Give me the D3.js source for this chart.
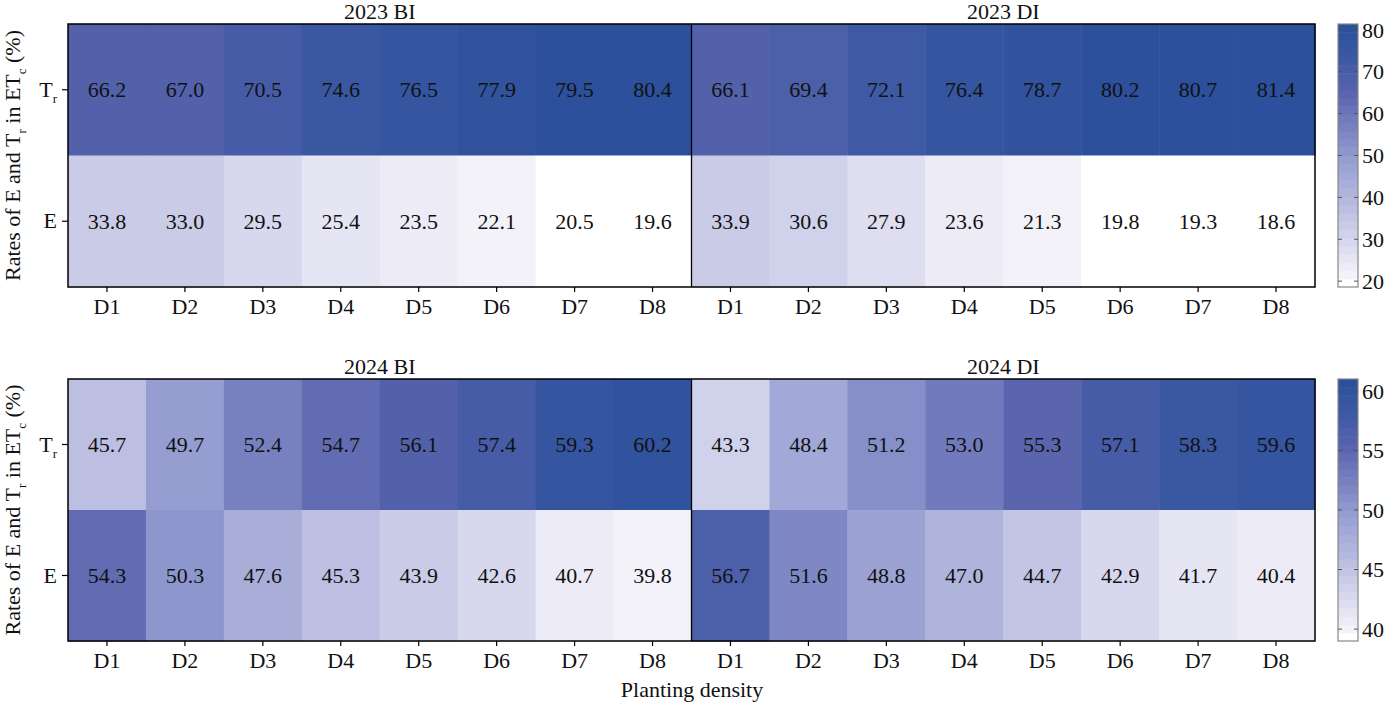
<!DOCTYPE html>
<html>
<head>
<meta charset="utf-8">
<script src="https://cdn.jsdelivr.net/npm/d3@7"></script>
<style>
body { margin: 0; background: #fff; }
text { font-family: "Liberation Serif", "Times New Roman", serif; fill: #111; }
</style>
</head>
<body>
<svg id="chart" width="1394" height="706"></svg>
<script>
// densities and rows
const densities = ['D1', 'D2', 'D3', 'D4', 'D5', 'D6', 'D7', 'D8'];
const treatments = ['BI', 'DI'];
const rowKeys = ['Tr', 'E'];

// 2023 values
const bi2023Tr = [66.2, 67.0, 70.5, 74.6, 76.5, 77.9, 79.5, 80.4];
const bi2023E = [33.8, 33.0, 29.5, 25.4, 23.5, 22.1, 20.5, 19.6];
const di2023Tr = [66.1, 69.4, 72.1, 76.4, 78.7, 80.2, 80.7, 81.4];
const di2023E = [33.9, 30.6, 27.9, 23.6, 21.3, 19.8, 19.3, 18.6];

// 2024 values
const bi2024Tr = [45.7, 49.7, 52.4, 54.7, 56.1, 57.4, 59.3, 60.2];
const bi2024E = [54.3, 50.3, 47.6, 45.3, 43.9, 42.6, 40.7, 39.8];
const di2024Tr = [43.3, 48.4, 51.2, 53.0, 55.3, 57.1, 58.3, 59.6];
const di2024E = [56.7, 51.6, 48.8, 47.0, 44.7, 42.9, 41.7, 40.4];

// colorbar ticks / ranges
const ticks2023 = [20, 30, 40, 50, 60, 70, 80];
const ticks2024 = [40, 45, 50, 55, 60];
const range2023 = [18.6, 81.4];
const range2024 = [39, 61];

const svg = d3.select('#chart');
const left = 68, right = 1315;
const nLevels = 32;
const fs = '22px';

// white -> lavender -> blue
const cmap = d3.scaleLinear()
    .domain([0, 0.03, 0.25, 0.5, 0.75, 0.88, 1])
    .range(['#ffffff', '#f4f2f9', '#c4c6e5', '#929ad0', '#5863ad', '#3d59a4', '#2c509b'])
    .interpolate(d3.interpolateRgb);

function levelColor(v, dom) {
  let t = (v - dom[0]) / (dom[1] - dom[0]);
  let k = Math.max(0, Math.min(nLevels - 1, Math.floor(t * nLevels)));
  return cmap(k / (nLevels - 1));
}

function panel(top, bottom, year, vals, dom, ticks) {
  const cols = [];
  treatments.forEach(tr => densities.forEach(d => cols.push(tr + '-' + d)));

  const x = d3.scaleBand().domain(cols).range([left, right]);
  const y = d3.scaleBand().domain(rowKeys).range([top, bottom]);

  const cells = [];
  treatments.forEach(tr => {
    rowKeys.forEach(r => {
      vals[tr][r].forEach((v, i) => cells.push({col: tr + '-' + densities[i], row: r, v: v}));
    });
  });

  const g = svg.append('g');

  g.selectAll('rect.cell')
    .data(cells)
    .enter()
    .append('rect')
    .attr('class', 'cell')
    .attr('x', d => x(d.col))
    .attr('y', d => y(d.row))
    .attr('width', x.bandwidth() + 0.5)
    .attr('height', y.bandwidth() + 0.5)
    .attr('fill', d => levelColor(d.v, dom));

  g.selectAll('text.val')
    .data(cells)
    .enter()
    .append('text')
    .attr('class', 'val')
    .attr('x', d => x(d.col) + x.bandwidth() / 2)
    .attr('y', d => y(d.row) + y.bandwidth() / 2)
    .attr('dy', '0.35em')
    .attr('text-anchor', 'middle')
    .attr('font-size', fs)
    .text(d => d.v.toFixed(1));

  // divider between BI and DI
  const mid = x('DI-D1');
  g.append('line')
    .attr('x1', mid).attr('x2', mid)
    .attr('y1', top).attr('y2', bottom)
    .attr('stroke', '#000').attr('stroke-width', 1.3);

  g.append('rect')
    .attr('x', left).attr('y', top)
    .attr('width', right - left).attr('height', bottom - top)
    .attr('fill', 'none').attr('stroke', '#000').attr('stroke-width', 1.5);

  // titles
  treatments.forEach(tr => {
    const x0 = x(tr + '-D1'), x1 = x(tr + '-D8') + x.bandwidth();
    g.append('text')
      .attr('x', (x0 + x1) / 2)
      .attr('y', top - 5)
      .attr('text-anchor', 'middle')
      .attr('font-size', fs)
      .text(year + ' ' + tr);
  });

  // x axis
  const xAxis = g.append('g')
    .attr('transform', `translate(0, ${bottom})`)
    .call(d3.axisBottom(x).tickSize(5).tickPadding(6).tickFormat(d => d.split('-')[1]));
  xAxis.select('.domain').remove();
  xAxis.selectAll('line').attr('stroke', '#000').attr('stroke-width', 1.2);
  xAxis.selectAll('text').attr('font-size', fs).attr('font-family', '"Liberation Serif", serif').attr('fill', '#111');

  // y axis
  const yAxis = g.append('g')
    .attr('transform', `translate(${left}, 0)`)
    .call(d3.axisLeft(y).tickSize(6).tickPadding(5));
  yAxis.select('.domain').remove();
  yAxis.selectAll('line').attr('stroke', '#000').attr('stroke-width', 1.2);
  yAxis.selectAll('text')
    .attr('font-size', fs).attr('font-family', '"Liberation Serif", serif').attr('fill', '#111')
    .each(function(d) {
      if (d === 'Tr') {
        const t = d3.select(this).text('');
        t.append('tspan').text('T');
        t.append('tspan').attr('dy', 6).attr('font-size', '13px').text('r');
      }
    });

  // y label
  const yl = g.append('text')
    .attr('transform', `translate(20, ${(top + bottom) / 2}) rotate(-90)`)
    .attr('text-anchor', 'middle')
    .attr('font-size', fs);
  yl.append('tspan').text('Rates of E and T');
  yl.append('tspan').attr('dy', 6).attr('font-size', '13px').text('r');
  yl.append('tspan').attr('dy', -6).text(' in ET');
  yl.append('tspan').attr('dy', 6).attr('font-size', '13px').text('c');
  yl.append('tspan').attr('dy', -6).text(' (%)');

  // colorbar
  const cbX = 1338, cbW = 20;
  const cy = d3.scaleLinear().domain(dom).range([bottom, top]);
  const steps = d3.range(nLevels);
  const edge = k => cy(dom[0] + k * (dom[1] - dom[0]) / nLevels);
  const cb = svg.append('g');
  cb.selectAll('rect')
    .data(steps)
    .enter()
    .append('rect')
    .attr('x', cbX)
    .attr('y', k => edge(k + 1))
    .attr('width', cbW)
    .attr('height', k => edge(k) - edge(k + 1) + 0.5)
    .attr('fill', k => cmap(k / (nLevels - 1)));
  cb.append('rect')
    .attr('x', cbX).attr('y', top)
    .attr('width', cbW).attr('height', bottom - top)
    .attr('fill', 'none').attr('stroke', '#888').attr('stroke-width', 1.2);
  cb.selectAll('line.tl')
    .data(ticks)
    .enter()
    .append('line')
    .attr('x1', cbX).attr('x2', cbX + 4)
    .attr('y1', d => cy(d)).attr('y2', d => cy(d))
    .attr('stroke', '#555').attr('stroke-width', 1);
  cb.selectAll('line.tr')
    .data(ticks)
    .enter()
    .append('line')
    .attr('x1', cbX + cbW - 4).attr('x2', cbX + cbW)
    .attr('y1', d => cy(d)).attr('y2', d => cy(d))
    .attr('stroke', '#555').attr('stroke-width', 1);
  cb.selectAll('text')
    .data(ticks)
    .enter()
    .append('text')
    .attr('x', cbX + cbW + 4)
    .attr('y', d => cy(d))
    .attr('dy', '0.35em')
    .attr('font-size', fs)
    .text(d => d);
}

panel(24, 287, 2023,
  {BI: {Tr: bi2023Tr, E: bi2023E}, DI: {Tr: di2023Tr, E: di2023E}},
  range2023, ticks2023);
panel(379, 641, 2024,
  {BI: {Tr: bi2024Tr, E: bi2024E}, DI: {Tr: di2024Tr, E: di2024E}},
  range2024, ticks2024);

svg.append('text')
  .attr('x', 692)
  .attr('y', 697)
  .attr('text-anchor', 'middle')
  .attr('font-size', fs)
  .text('Planting density');
</script>
</body>
</html>
